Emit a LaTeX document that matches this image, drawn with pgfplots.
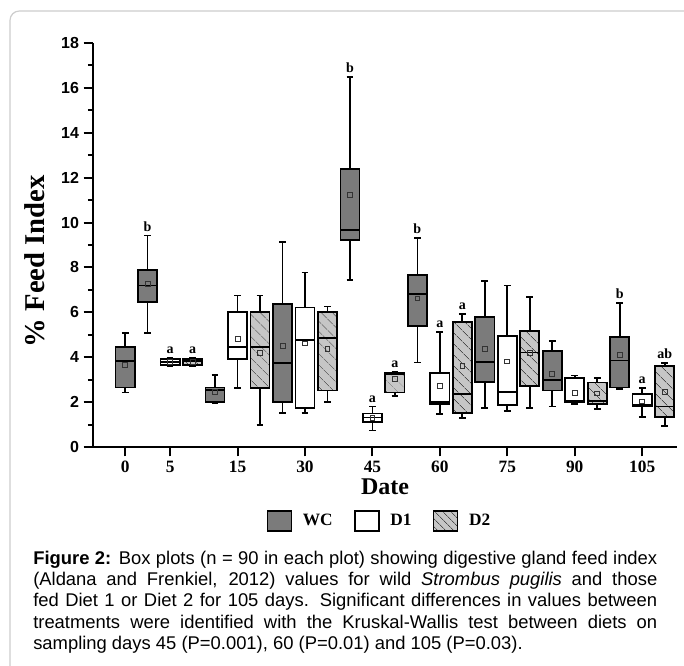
\documentclass[border=0pt]{standalone}
\usepackage{fontspec}
\setmainfont{Liberation Serif}
\setsansfont{Liberation Sans}
\usepackage{pgfplots}
\pgfplotsset{compat=1.18}
\usepgfplotslibrary{statistics}
\usetikzlibrary{patterns.meta}

\definecolor{wcgray}{HTML}{7B7B7B}
\definecolor{dtwo}{HTML}{C6C6C6}
\definecolor{framegray}{HTML}{CDCDCD}

\pgfplotsset{
  boxbase/.style={draw=black, line width=1.3pt, forget plot,
    boxplot/draw direction=y, boxplot/box extend=0.85, boxplot/whisker extend=0.3},
  wc/.style={boxbase, boxplot/every box/.style={fill=wcgray}},
  dA/.style={boxbase, boxplot/every box/.style={fill=white}},
  dB/.style={boxbase, boxplot/every box/.style={preaction={fill=dtwo},
    pattern={Lines[angle=-45,distance=6.5pt,line width=0.5pt]}, pattern color=black!70}},
  legbox/.style={legend image code/.code={%
    \draw[##1, draw=black, line width=1.2pt] (0pt,-7.5pt) rectangle (18pt,7.5pt);}},
}
\tikzset{lab/.style={anchor=south, inner sep=0pt, yshift=3pt, font=\bfseries\fontsize{10.5}{12}\selectfont}}

\begin{document}
\begin{tikzpicture}
\useasboundingbox (0,0) rectangle (513pt,-499.5pt);
\draw[framegray, line width=0.9pt, rounded corners=7pt] (7.5pt,-8.25pt) rectangle (520pt,-520pt);

\begin{axis}[
  at={(69.75pt,-335.25pt)}, anchor=south west,
  scale only axis, width=438pt, height=303pt,
  xmin=-1.43, xmax=24.55, ymin=0, ymax=18,
  clip=false,
  axis x line*=bottom, axis y line*=left,
  axis line style={line width=1.9pt, -},
  tick align=outside,
  xtick={0,2,5,8,11,14,17,20,23},
  xticklabels={0,5,15,30,45,60,75,90,105},
  ytick={0,2,...,18}, minor ytick={1,3,...,17},
  major tick length=7pt, minor tick length=3.75pt,
  tick style={line width=1.5pt, black},
  /pgf/number format/assume math mode=true,
  x tick label style={font=\bfseries\fontsize{13}{15}\selectfont},
  y tick label style={font=\sffamily\bfseries\fontsize{12}{14}\selectfont},
  ylabel={\% Feed Index},
  every axis y label/.style={at={(axis description cs:-0.0993,0.46)}, rotate=90, anchor=center,
    font=\bfseries\fontsize{21.5}{24}\selectfont},
  xlabel={Date},
  every axis x label/.style={at={(axis description cs:0.5,-0.0787)}, anchor=north, inner sep=0pt,
    font=\bfseries\fontsize{18}{20}\selectfont},
  legend style={at={(axis description cs:0.491,-0.183)}, anchor=center, draw=none, fill=none,
    legend columns=3, font=\bfseries\fontsize{13}{15}\selectfont,
    /tikz/every odd column/.append style={column sep=6pt},
    /tikz/every even column/.append style={column sep=14pt}},
  legend cell align=left,
]

% day 0
\addplot[wc, boxplot prepared={draw position=0, lower whisker=2.43, lower quartile=2.65, median=3.84, upper quartile=4.46, upper whisker=5.07}] coordinates {};
% day 5
\addplot[wc, boxplot prepared={draw position=1, lower whisker=5.07, lower quartile=6.47, median=7.19, upper quartile=7.87, upper whisker=9.42}] coordinates {};
\addplot[dA, boxplot prepared={draw position=2, lower whisker=3.62, lower quartile=3.65, median=3.80, upper quartile=3.93, upper whisker=3.95}] coordinates {};
\addplot[dB, boxplot prepared={draw position=3, lower whisker=3.62, lower quartile=3.66, median=3.82, upper quartile=3.93, upper whisker=3.95}] coordinates {};
% day 15
\addplot[wc, boxplot prepared={draw position=4, lower whisker=1.95, lower quartile=2.02, median=2.55, upper quartile=2.65, upper whisker=3.21}] coordinates {};
\addplot[dA, boxplot prepared={draw position=5, lower whisker=2.62, lower quartile=3.91, median=4.46, upper quartile=6.03, upper whisker=6.75}] coordinates {};
\addplot[dB, boxplot prepared={draw position=6, lower whisker=0.98, lower quartile=2.62, median=4.46, upper quartile=6.03, upper whisker=6.75}] coordinates {};
% day 30
\addplot[wc, boxplot prepared={draw position=7, lower whisker=1.53, lower quartile=2.00, median=3.74, upper quartile=6.38, upper whisker=9.12}] coordinates {};
\addplot[dA, boxplot prepared={draw position=8, lower whisker=1.50, lower quartile=1.73, median=4.76, upper quartile=6.22, upper whisker=7.78}] coordinates {};
\addplot[dB, boxplot prepared={draw position=9, lower whisker=2.02, lower quartile=2.52, median=4.85, upper quartile=6.00, upper whisker=6.26}] coordinates {};
% day 45
\addplot[wc, boxplot prepared={draw position=10, lower whisker=7.45, lower quartile=9.22, median=9.66, upper quartile=12.37, upper whisker=16.47}] coordinates {};
\addplot[dA, boxplot prepared={draw position=11, lower whisker=0.73, lower quartile=1.12, median=1.32, upper quartile=1.49, upper whisker=1.80}] coordinates {};
\addplot[dB, boxplot prepared={draw position=12, lower whisker=2.28, lower quartile=2.43, median=3.25, upper quartile=3.29, upper whisker=3.36}] coordinates {};
% day 60
\addplot[wc, boxplot prepared={draw position=13, lower whisker=3.76, lower quartile=5.40, median=6.82, upper quartile=7.65, upper whisker=9.32}] coordinates {};
\addplot[dA, boxplot prepared={draw position=14, lower whisker=1.48, lower quartile=1.90, median=2.02, upper quartile=3.29, upper whisker=5.12}] coordinates {};
\addplot[dB, boxplot prepared={draw position=15, lower whisker=1.28, lower quartile=1.53, median=2.37, upper quartile=5.57, upper whisker=5.94}] coordinates {};
% day 75
\addplot[wc, boxplot prepared={draw position=16, lower whisker=1.73, lower quartile=2.89, median=3.78, upper quartile=5.79, upper whisker=7.41}] coordinates {};
\addplot[dA, boxplot prepared={draw position=17, lower whisker=1.62, lower quartile=1.86, median=2.44, upper quartile=4.96, upper whisker=7.20}] coordinates {};
\addplot[dB, boxplot prepared={draw position=18, lower whisker=1.75, lower quartile=2.72, median=4.21, upper quartile=5.18, upper whisker=6.68}] coordinates {};
% day 90
\addplot[wc, boxplot prepared={draw position=19, lower whisker=1.80, lower quartile=2.52, median=2.99, upper quartile=4.29, upper whisker=4.73}] coordinates {};
\addplot[dA, boxplot prepared={draw position=20, lower whisker=1.92, lower quartile=1.98, median=2.05, upper quartile=3.07, upper whisker=3.18}] coordinates {};
\addplot[dB, boxplot prepared={draw position=21, lower whisker=1.70, lower quartile=1.92, median=2.05, upper quartile=2.87, upper whisker=3.07}] coordinates {};
% day 105
\addplot[wc, boxplot prepared={draw position=22, lower whisker=2.57, lower quartile=2.65, median=3.85, upper quartile=4.90, upper whisker=6.41}] coordinates {};
\addplot[dA, boxplot prepared={draw position=23, lower whisker=1.33, lower quartile=1.80, median=1.88, upper quartile=2.35, upper whisker=2.62}] coordinates {};
\addplot[dB, boxplot prepared={draw position=24, lower whisker=0.95, lower quartile=1.35, median=1.80, upper quartile=3.62, upper whisker=3.74}] coordinates {};

% means
\addplot[only marks, mark=square, mark size=1.8pt, black!80, line width=0.6pt, forget plot] table {
x y
0 3.65
1 7.27
2 3.80
3 3.78
4 2.45
5 4.80
6 4.20
7 4.52
8 4.62
9 4.36
10 11.25
11 1.28
12 3.03
13 6.62
14 2.72
15 3.63
16 4.37
17 3.81
18 4.18
19 3.27
20 2.42
21 2.39
22 4.10
23 2.03
24 2.44
};

% significance letters
\node[lab] at (axis cs:1,9.42) {b};
\node[lab] at (axis cs:2,3.95) {a};
\node[lab] at (axis cs:3,3.95) {a};
\node[lab] at (axis cs:10,16.47) {b};
\node[lab] at (axis cs:11,1.80) {a};
\node[lab] at (axis cs:12,3.36) {a};
\node[lab] at (axis cs:13,9.32) {b};
\node[lab] at (axis cs:14,5.12) {a};
\node[lab] at (axis cs:15,5.94) {a};
\node[lab] at (axis cs:22,6.41) {b};
\node[lab] at (axis cs:23,2.62) {a};
\node[lab] at (axis cs:24,3.74) {ab};

\addlegendimage{legbox, fill=wcgray}
\addlegendentry{WC}
\addlegendimage{legbox, fill=white}
\addlegendentry{D1}
\addlegendimage{legbox, preaction={fill=dtwo}, pattern={Lines[angle=-45,distance=4pt,line width=0.5pt]}, pattern color=black!70}
\addlegendentry{D2}
\end{axis}

\node[anchor=north west, text width=468pt, align=justify, inner sep=0pt,
  font=\sffamily\fontsize{13.8}{16}\selectfont] at (24.75pt,-413pt) {%
  \hyphenpenalty=10000\tolerance=9999%
  {\bfseries Figure 2:} Box plots (n = 90 in each plot) showing digestive gland feed index\linebreak
  (Aldana and Frenkiel, 2012) values for wild \textit{Strombus pugilis} and those\linebreak
  fed Diet 1 or Diet 2 for 105 days. Significant differences in values between\linebreak
  treatments were identified with the Kruskal-Wallis test between diets on\linebreak
  sampling days 45 (P=0.001), 60 (P=0.01) and 105 (P=0.03).};
\end{tikzpicture}
\end{document}
